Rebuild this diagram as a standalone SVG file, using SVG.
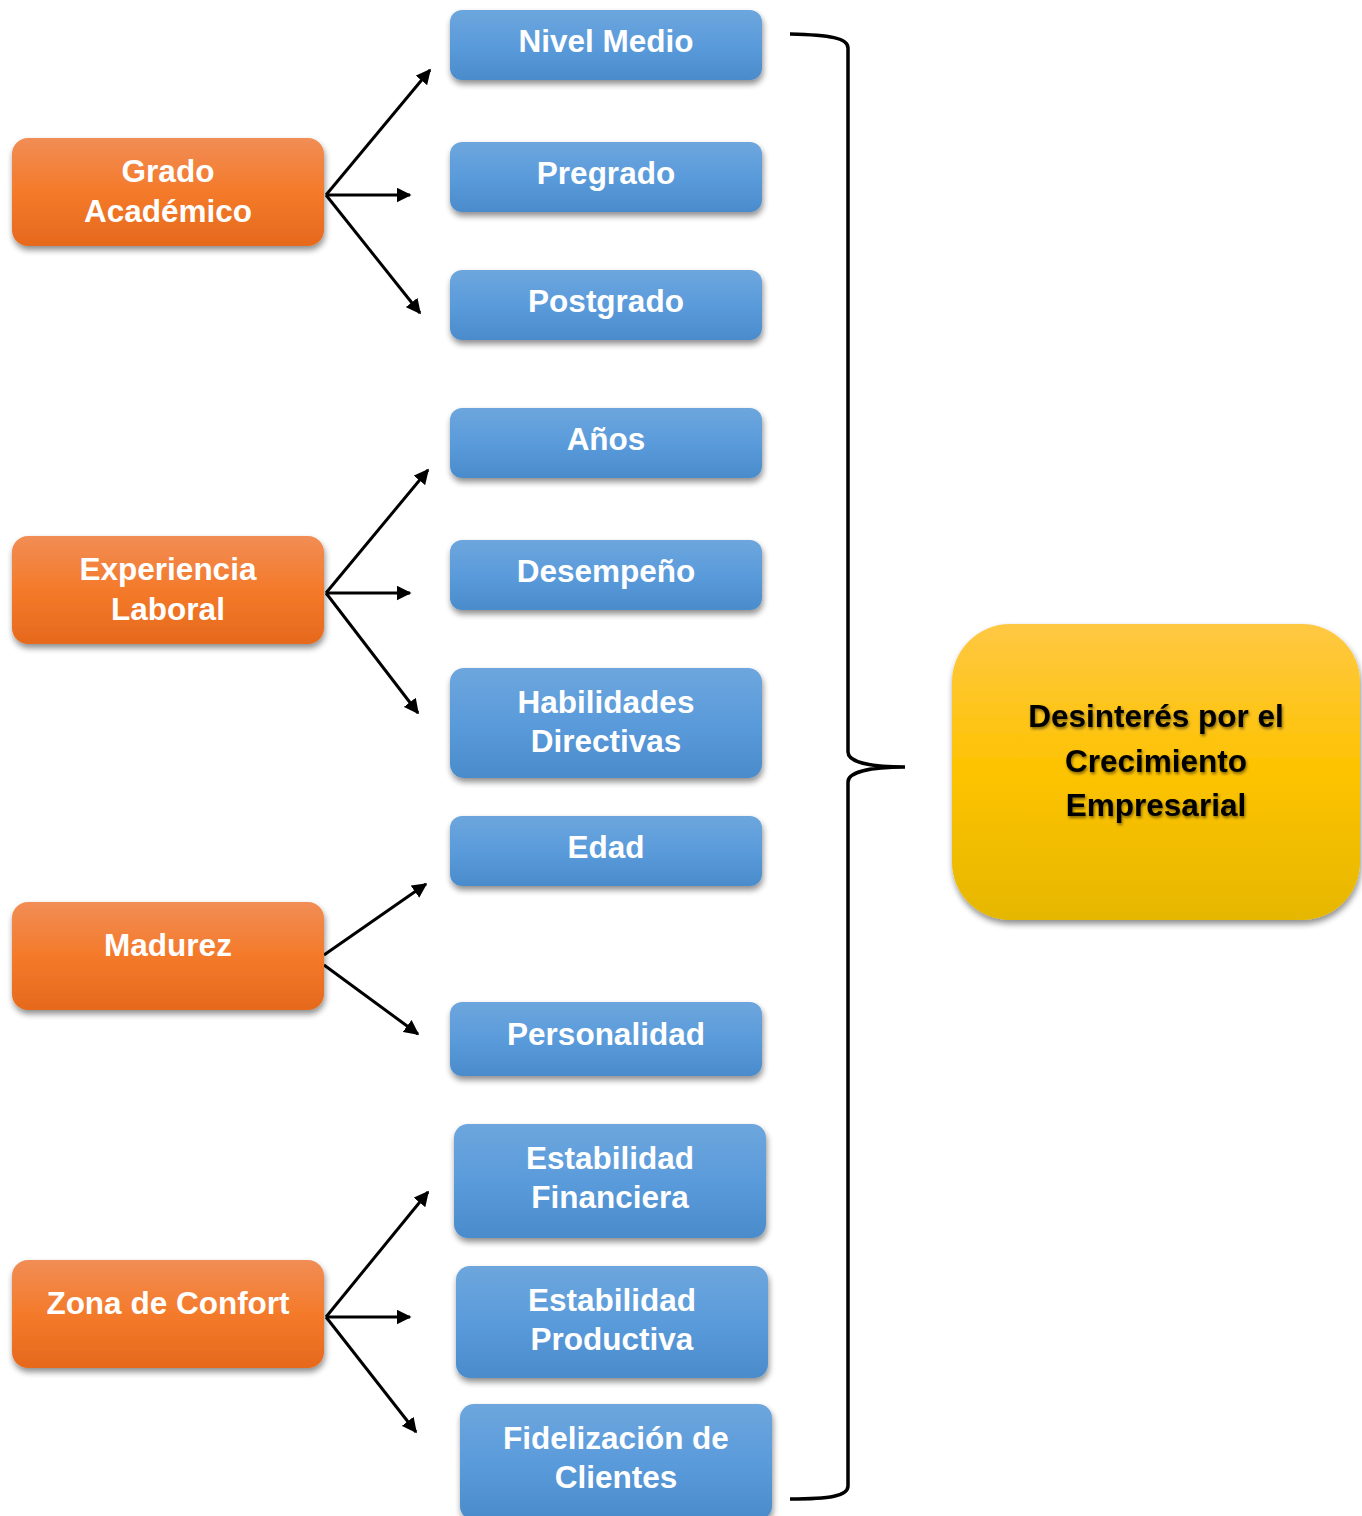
<svg xmlns="http://www.w3.org/2000/svg" width="1362" height="1516" viewBox="0 0 1362 1516">
<defs>
<linearGradient id="gO" x1="0" y1="0" x2="0" y2="1"><stop offset="0" stop-color="#F18D55"/><stop offset="0.5" stop-color="#F47A2A"/><stop offset="1" stop-color="#E6691D"/></linearGradient>
<linearGradient id="gB" x1="0" y1="0" x2="0" y2="1"><stop offset="0" stop-color="#6DA6DD"/><stop offset="0.5" stop-color="#5A9BDB"/><stop offset="1" stop-color="#4A8BCB"/></linearGradient>
<linearGradient id="gY" x1="0" y1="0" x2="0" y2="1"><stop offset="0" stop-color="#FFC843"/><stop offset="0.5" stop-color="#FDC300"/><stop offset="1" stop-color="#E6B700"/></linearGradient>
<filter id="sh" x="-10%" y="-10%" width="120%" height="130%"><feGaussianBlur in="SourceAlpha" stdDeviation="3"/><feOffset dx="1" dy="4"/><feComponentTransfer><feFuncA type="linear" slope="0.45"/></feComponentTransfer><feMerge><feMergeNode/><feMergeNode in="SourceGraphic"/></feMerge></filter>
<filter id="tsh" x="-10%" y="-20%" width="120%" height="150%"><feGaussianBlur in="SourceAlpha" stdDeviation="1.5"/><feOffset dx="1" dy="2"/><feComponentTransfer><feFuncA type="linear" slope="0.5"/></feComponentTransfer><feMerge><feMergeNode/><feMergeNode in="SourceGraphic"/></feMerge></filter>
<marker id="ah" viewBox="0 0 10 10" refX="9" refY="5" markerWidth="5" markerHeight="5" orient="auto" markerUnits="strokeWidth"><path d="M0,0 L10,5 L0,10 z" fill="#000"/></marker>
<style>
.o{fill:url(#gO);filter:url(#sh)}
.b{fill:url(#gB);filter:url(#sh)}
.y{fill:url(#gY);filter:url(#sh)}
.t{font-family:"Liberation Sans",Arial,sans-serif;font-weight:bold;font-size:31.5px;fill:#fff;text-anchor:middle}
.k{font-family:"Liberation Sans",Arial,sans-serif;font-weight:bold;font-size:31.5px;fill:#000;text-anchor:middle;filter:url(#tsh)}
.c{fill:none;stroke:#000;stroke-width:3;marker-end:url(#ah)}
.br{fill:none;stroke:#000;stroke-width:3.5}
</style>
</defs>
<rect width="1362" height="1516" fill="#fff"/>
<g id="connectors">
<path class="c" d="M326,195 L430,70"/>
<path class="c" d="M326,195 L410,195"/>
<path class="c" d="M326,195 L420,313"/>
<path class="c" d="M326,593 L428,470"/>
<path class="c" d="M326,593 L410,593"/>
<path class="c" d="M326,593 L418,713"/>
<path class="c" d="M324,955 L426,884"/>
<path class="c" d="M324,965 L418,1034"/>
<path class="c" d="M326,1317 L428,1192"/>
<path class="c" d="M326,1317 L410,1317"/>
<path class="c" d="M326,1317 L416,1432"/>
<path class="br" d="M790,34 C830,35 848,38 848,48 L848,752 C848,762 870,767 905,767 C870,767 848,772 848,782 L848,1486 C848,1496 830,1499 790,1499"/>
</g>
<g id="n-grado"><rect class="o" x="12" y="138" width="312" height="108" rx="16"/><text class="t" x="168" y="182">Grado</text><text class="t" x="168" y="222">Académico</text></g>
<g id="n-experiencia"><rect class="o" x="12" y="536" width="312" height="108" rx="16"/><text class="t" x="168" y="580">Experiencia</text><text class="t" x="168" y="620">Laboral</text></g>
<g id="n-madurez"><rect class="o" x="12" y="902" width="312" height="108" rx="16"/><text class="t" x="168" y="956">Madurez</text></g>
<g id="n-zona"><rect class="o" x="12" y="1260" width="312" height="108" rx="16"/><text class="t" x="168" y="1314">Zona de Confort</text></g>
<g id="n-nivel"><rect class="b" x="450" y="10" width="312" height="70" rx="12"/><text class="t" x="606" y="52">Nivel Medio</text></g>
<g id="n-pregrado"><rect class="b" x="450" y="142" width="312" height="70" rx="12"/><text class="t" x="606" y="184">Pregrado</text></g>
<g id="n-postgrado"><rect class="b" x="450" y="270" width="312" height="70" rx="12"/><text class="t" x="606" y="312">Postgrado</text></g>
<g id="n-anos"><rect class="b" x="450" y="408" width="312" height="70" rx="12"/><text class="t" x="606" y="450">Años</text></g>
<g id="n-desempeno"><rect class="b" x="450" y="540" width="312" height="70" rx="12"/><text class="t" x="606" y="582">Desempeño</text></g>
<g id="n-habilidades"><rect class="b" x="450" y="668" width="312" height="110" rx="14"/><text class="t" x="606" y="713">Habilidades</text><text class="t" x="606" y="752">Directivas</text></g>
<g id="n-edad"><rect class="b" x="450" y="816" width="312" height="70" rx="12"/><text class="t" x="606" y="858">Edad</text></g>
<g id="n-personalidad"><rect class="b" x="450" y="1002" width="312" height="74" rx="12"/><text class="t" x="606" y="1045">Personalidad</text></g>
<g id="n-financiera"><rect class="b" x="454" y="1124" width="312" height="114" rx="14"/><text class="t" x="610" y="1169">Estabilidad</text><text class="t" x="610" y="1208">Financiera</text></g>
<g id="n-productiva"><rect class="b" x="456" y="1266" width="312" height="112" rx="14"/><text class="t" x="612" y="1311">Estabilidad</text><text class="t" x="612" y="1350">Productiva</text></g>
<g id="n-fidelizacion"><rect class="b" x="460" y="1404" width="312" height="116" rx="14"/><text class="t" x="616" y="1449">Fidelización de</text><text class="t" x="616" y="1488">Clientes</text></g>
<g id="n-desinteres"><rect class="y" x="952" y="624" width="408" height="296" rx="58"/><text class="k" x="1156" y="727">Desinterés por el</text><text class="k" x="1156" y="772">Crecimiento</text><text class="k" x="1156" y="816">Empresarial</text></g>
</svg>
